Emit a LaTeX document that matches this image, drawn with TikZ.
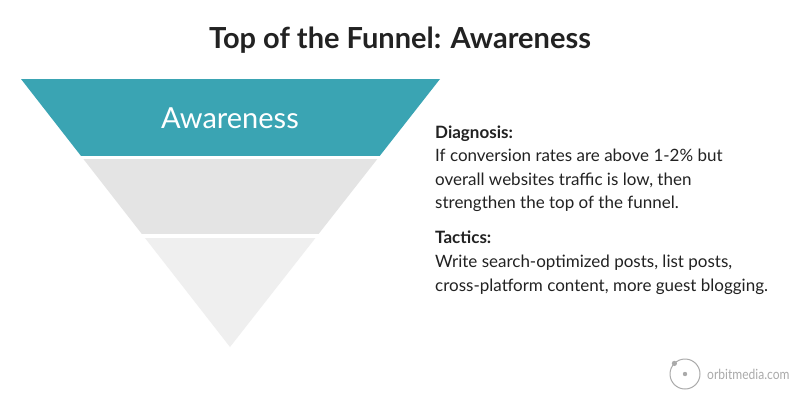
\documentclass[tikz,border=0pt]{standalone}
\usepackage{fontspec}
\usepackage{graphicx}
\setmainfont{Lato}
\usetikzlibrary{positioning}
\definecolor{teal}{HTML}{3AA4B3}
\definecolor{midgray}{HTML}{E4E4E4}
\definecolor{lightgray}{HTML}{EFEFEF}
\definecolor{ink}{HTML}{222222}
\definecolor{logogray}{HTML}{AAAAAA}
\tikzset{
	bodytext/.style={anchor=base west, inner sep=0pt, text=ink, font=\fontsize{17}{24}\selectfont},
	headtext/.style={bodytext, font=\fontsize{17}{24}\selectfont\bfseries}
}

\begin{document}
\begin{tikzpicture}[x=1pt, y=-1pt]
			%%%%% START %%%%%
			\useasboundingbox[fill=white] (0, 0) rectangle (800, 400);
			
			\node[anchor=base, inner sep=0pt, text=ink, font=\fontsize{29}{30}\selectfont\bfseries] (title) at (400, 48) {Top of the Funnel: Awareness};
			
			\begin{scope}
				\clip (21, 79) -- (440, 79) -- (230, 347) -- cycle;
				\fill[teal] (0, 79) rectangle (460, 156);
				\fill[midgray] (0, 159) rectangle (460, 234);
				\fill[lightgray] (0, 238) rectangle (460, 350);
			\end{scope}
			
			\node[anchor=base, inner sep=0pt, text=white, font=\fontsize{29}{30}\selectfont] (aware) at (230, 128) {Awareness};
			
			\node[headtext] (diag) at (435, 138) {Diagnosis:};
			\node[bodytext] (d1) at (435, 161) {If conversion rates are above 1-2\% but};
			\node[bodytext] (d2) at (435, 185) {overall websites traffic is low, then};
			\node[bodytext] (d3) at (435, 208) {strengthen the top of the funnel.};
			
			\node[headtext] (tact) at (435, 243) {Tactics:};
			\node[bodytext] (t1) at (435, 267) {Write search-optimized posts, list posts,};
			\node[bodytext] (t2) at (435, 291) {cross-platform content, more guest blogging.};
			
			\draw[logogray, line width=1pt] (685, 374) circle (15);
			\fill[logogray] (685, 374) circle (2.2);
			\fill[logogray] (674.4, 363.4) circle (2.6);
			\node[anchor=base west, inner sep=0pt, text=logogray, font=\fontsize{14}{16}\selectfont] (logo) at (707, 379) {\scalebox{0.86}[1]{orbitmedia.com}};
			
			%%%%% END %%%%%
\end{tikzpicture}
\end{document}
